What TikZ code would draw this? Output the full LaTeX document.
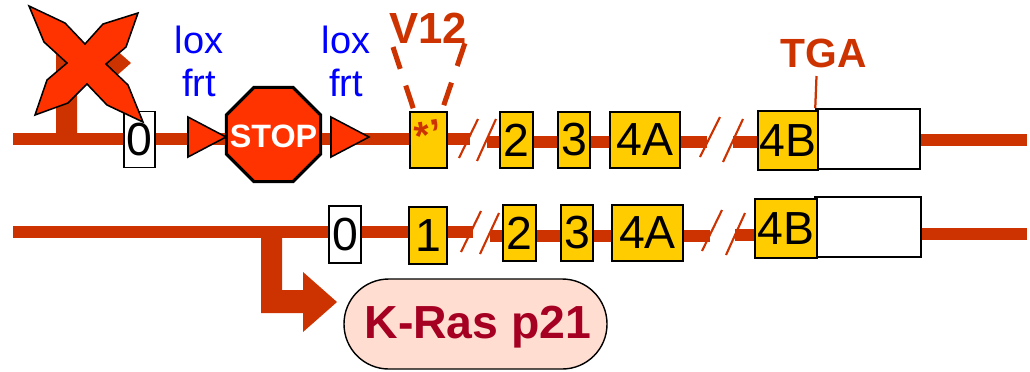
\documentclass[tikz,border=0pt]{standalone}
\usepackage{fontspec}
\setmainfont{Liberation Sans}
\usetikzlibrary{shapes.geometric}
\definecolor{lineorange}{HTML}{CC3300}
\definecolor{signred}{HTML}{FF3300}
\definecolor{exonyellow}{HTML}{FFCC00}
\definecolor{pillpink}{HTML}{FFDDD0}
\definecolor{pillred}{HTML}{A50021}
\newcommand{\fs}[1]{\fontsize{#1}{#1}\selectfont}
\tikzset{
    exonbox/.style={draw=black, line width=1.1pt, inner sep=0pt, fill=exonyellow, font=\fs{33}},
    whitebox/.style={exonbox, fill=white},
    geneline/.style={lineorange, line width=8.5pt},
    breakline/.style={lineorange, line width=1.5pt},
    loxtext/.style={blue, anchor=base, font=\fs{27}, inner sep=0pt},
    redtext/.style={lineorange, anchor=base, font=\fs{29}\bfseries, inner sep=0pt},
    sigfill/.style={fill=signred, draw=black, line width=1.1pt, line join=miter}
}
\begin{document}
\begin{tikzpicture}[x=0.025cm, y=-0.025cm]
    \useasboundingbox (0,0) rectangle (1030,371);
    % exons, both rows
    \foreach \name/\sty/\x/\y/\w/\h/\lab in {
        zeroA/whitebox/139.5/139.5/31/56/0, twoA/exonbox/516.5/140/33/56/2, threeA/exonbox/574/140/32/56/3, fourA/exonbox/645/140/70/56/4A,
        zeroB/whitebox/345/234.5/32/57/0, oneB/exonbox/428/235.5/38/57/1, twoB/exonbox/519.5/233/33/56/2, threeB/exonbox/577/233/32/56/3, fourB/exonbox/647.5/233/71/56/4A}{
        \node[\sty, minimum width=\w*0.025cm, minimum height=\h*0.025cm] (\name) at (\x,\y) {\lab};
    }
    \node[exonbox, minimum width=37*0.025cm, minimum height=56*0.025cm] (mutA) at (428.5,140) {};
    \node[lineorange, font=\fs{28}\bfseries, rotate=10, inner sep=0pt] (starA) at (428.5,135) {*'};
    \node[whitebox, minimum width=104*0.025cm, minimum height=60*0.025cm] (utrA) at (868,139) {};
    \node[whitebox, minimum width=106*0.025cm, minimum height=60*0.025cm] (utrB) at (868,227) {};
    \node[exonbox, minimum width=60*0.025cm, minimum height=59*0.025cm] (exlastA) at (788,140.5) {4B};
    \node[exonbox, minimum width=62*0.025cm, minimum height=59*0.025cm] (exlastB) at (786,228.5) {4B};
    \node[sigfill, regular polygon, regular polygon sides=8,
        minimum size=102*0.025cm, inner sep=0pt, line width=2.2pt] (stopA) at (273.5,134.5) {};
    \node[text=white, font=\fs{23}\bfseries, inner sep=0pt] (stoptext) at (273.5,136) {STOP};
    % free ends and breaks
    \foreach \name/\x/\y in {startA/13/139, breakAa/470/139, breakAb/487/142, breakAc/707/142, breakAd/733/142,
        endA/1027/140, startB/13/232, breakBa/473/232, breakBb/490/236, breakBc/710/236, breakBd/735/235, endB/1027/234}{
        \coordinate (\name) at (\x,\y);
    }
    % gene lines
    \foreach \a/\b/\y in {startA/zeroA/139, zeroA/stopA/139, stopA/mutA/139, mutA/breakAa/139, breakAb/twoA/142, twoA/threeA/142, threeA/fourA/142,
        fourA/breakAc/142, breakAd/exlastA/142, utrA/endA/140, startB/zeroB/232, zeroB/oneB/232, oneB/breakBa/232, breakBb/twoB/236, twoB/threeB/236,
        threeB/fourB/236, fourB/breakBc/236, breakBd/exlastB/235, utrB/endB/234}{
        \draw[geneline] (\a.east |- 0,\y) -- (\b.west |- 0,\y);
    }
    % slashes
    \foreach \xa/\ya/\xb/\yb in {459/158/478/119, 477/161/496/119, 700/157/720/117, 723/162/743/119,
        461/252/481/211, 480/254/499/213, 702/251/722/210, 726/255/745/213}{
        \draw[breakline] (\xa,\ya) -- (\xb,\yb);
    }
    % bent arrows
    \fill[lineorange] (56,133)--(56,53)--(97,53)--(97,33)--(131,63)--(97,93)--(97,74)--(77,74)--(77,133)--cycle;
    \fill[lineorange] (261,238)--(261,313)--(303,313)--(303,332)--(337,302)--(303,272)--(303,290)--(282,290)--(282,238)--cycle;
    % the cross
    \draw[sigfill] (29,6)--(65,23)--(85,44)--(103,24)--(138,13)--(126,47)--(106,64)--(128,85)--(143,122)
        --(107,105)--(87,84)--(68,103)--(35,115)--(47,80)--(67,63)--(44,42)--cycle;
    % lox sites
    \foreach \x in {188,331}{
        \draw[sigfill] (\x,117) -- (\x+38,137) -- (\x,157) -- cycle;
    }
    \foreach \name/\x in {siteA/199,siteB/346}{
        \node[loxtext] (\name lox) at (\x,53) {lox};
        \node[loxtext] (\name frt) at (\x,96) {frt};
    }
    % labels
    \node[redtext, font=\fs{31}\bfseries] (codon) at (428,43) {V12};
    \node[redtext] (stopcodon) at (824,67) {TGA};
    \coordinate (codonL) at (393,47);
    \coordinate (codonR) at (465,43);
    \coordinate (tgatop) at (816.5,76);
    \draw[lineorange, line width=3.6pt, dash pattern=on 17pt off 12.5pt] (mutA.north west)++(4,-3) -- (codonL);
    \draw[lineorange, line width=3.6pt, dash pattern=on 17pt off 12.5pt] (mutA.north east)++(-4,-6) -- (codonR);
    \draw[lineorange, line width=1.6pt] (utrA.north west) -- (tgatop);
    \node[draw=black, line width=1pt, fill=pillpink, rounded corners=1.12cm, minimum width=263*0.025cm, minimum height=90*0.025cm,
        inner sep=0pt] (protein) at (475.5,324) {};
    \node[pillred, anchor=base, font=\fs{33}\bfseries, inner sep=0pt] (proteintext) at (478,338) {K-Ras p21};
\end{tikzpicture}
\end{document}
